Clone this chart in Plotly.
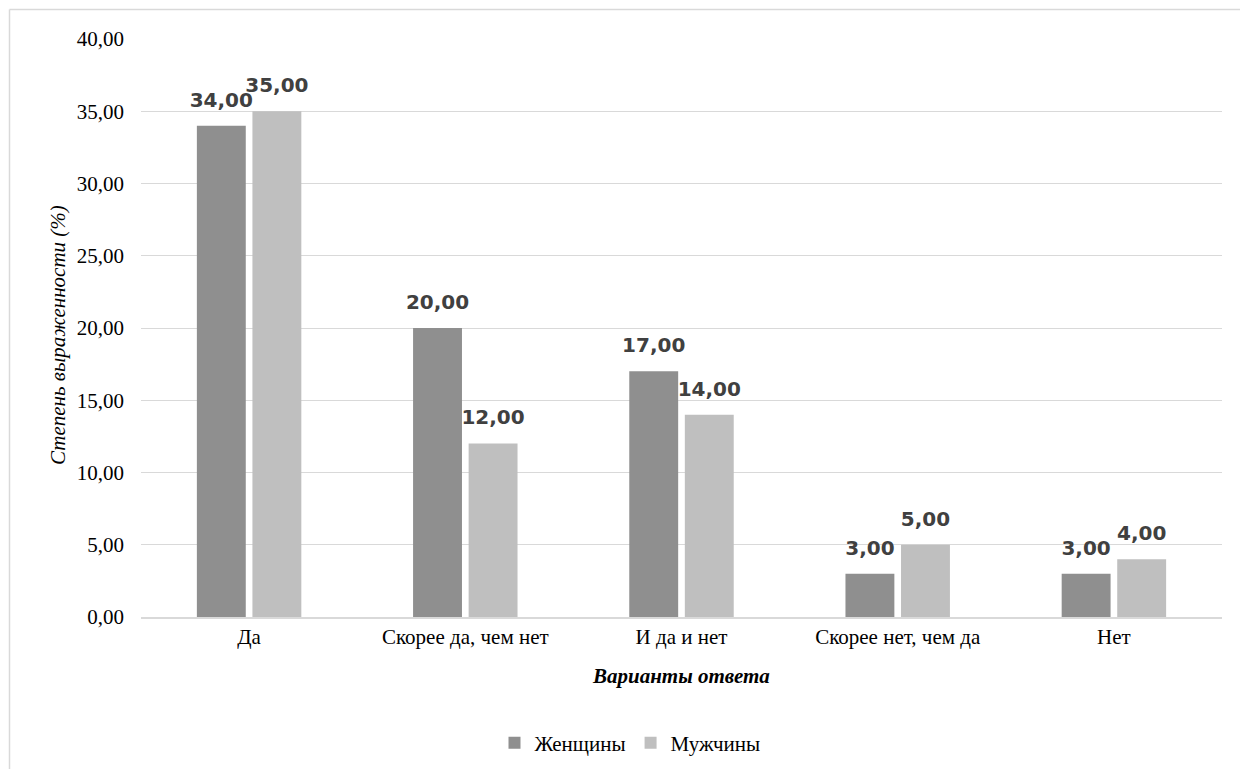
import plotly.graph_objects as go

categories = ["Да", "Скорее да, чем нет", "И да и нет", "Скорее нет, чем да", "Нет"]
women = [34, 20, 17, 3, 3]
men = [35, 12, 14, 5, 4]
series_names = ["Женщины", "Мужчины"]
tick_vals = [0, 5, 10, 15, 20, 25, 30, 35, 40]
tick_text = ["0,00", "5,00", "10,00", "15,00", "20,00", "25,00", "30,00", "35,00", "40,00"]

# page is rendered with an 8px body margin; work in figure coordinates
OFF = 8
W, H = 1248 - OFF, 769 - OFF
ml, mr, mt, mb = 141 - OFF, 26, 39 - OFF, 152
pw, ph = W - ml - mr, H - mt - mb

def fmt(v):
    return f"{v:.2f}".replace(".", ",")

serif = "Liberation Serif, Times New Roman, serif"
label_font = dict(family="DejaVu Sans, Arial, sans-serif", size=20, color="#404040")

def px_x(page_px):
    return (page_px - OFF - ml) / pw

def px_y(page_py):
    return (H - mb - (page_py - OFF)) / ph

fig = go.Figure()
series = [(series_names[0], women, "#8f8f8f", "g1"), (series_names[1], men, "#bfbfbf", "g2")]
for name, vals, col, grp in series:
    fig.add_trace(go.Bar(
        x=categories, y=vals, name=name, marker=dict(color=col, line=dict(width=0)),
        offsetgroup=grp, alignmentgroup="a",
    ))
for name, vals, col, grp in series:
    fig.add_trace(go.Scatter(
        x=categories, y=vals, mode="markers+text", showlegend=False, hoverinfo="skip",
        marker=dict(size=21, opacity=0, color=col),
        text=["<b>" + fmt(v) + "</b>" for v in vals], textposition="top center",
        textfont=label_font, cliponaxis=False,
        offsetgroup=grp, alignmentgroup="a",
    ))

shapes = [
    dict(type="line", xref="paper", yref="paper",
         x0=px_x(9.5), x1=px_x(1243), y0=px_y(9.5), y1=px_y(9.5),
         line=dict(color="#d9d9d9", width=1.5)),
    dict(type="line", xref="paper", yref="paper",
         x0=px_x(9.5), x1=px_x(9.5), y0=px_y(9.5), y1=px_y(769),
         line=dict(color="#d9d9d9", width=1.5)),
]

annotations = [
    dict(text="<b><i>Варианты ответа</i></b>", xref="paper", yref="paper",
         x=px_x(681), y=px_y(676), xanchor="center", yanchor="middle", showarrow=False,
         font=dict(family=serif, size=21, color="black")),
    dict(text="<i>Степень выраженности (%)</i>", xref="paper", yref="paper",
         x=px_x(58), y=px_y(335), xanchor="center", yanchor="middle", showarrow=False,
         textangle=-90, font=dict(family=serif, size=21, color="black")),
]

fig.update_layout(
    width=W, height=H,
    margin=dict(l=ml, r=mr, t=mt, b=mb, autoexpand=False),
    paper_bgcolor="white", plot_bgcolor="white",
    barmode="group", bargap=0.486, bargroupgap=0.12,
    scattermode="group", scattergap=0.486,
    font=dict(family=serif, size=21, color="black"),
    showlegend=True,
    legend=dict(orientation="h", x=px_x(630), xanchor="center",
                y=px_y(743), yanchor="middle",
                font=dict(family=serif, size=21, color="black"),
                itemwidth=30, traceorder="normal"),
    shapes=shapes,
    annotations=annotations,
)
fig.update_xaxes(
    showgrid=False, showline=True, linecolor="#d9d9d9", linewidth=1.5,
    ticks="", tickfont=dict(family=serif, size=21, color="black"),
)
fig.update_yaxes(
    range=[0, 40], tickvals=tick_vals, ticktext=tick_text,
    showgrid=True, gridcolor="#d9d9d9", gridwidth=1.2, zeroline=False,
    ticks="", ticklabelstandoff=16, tickfont=dict(family=serif, size=21, color="black"),
)

fig.write_html("out.html")
